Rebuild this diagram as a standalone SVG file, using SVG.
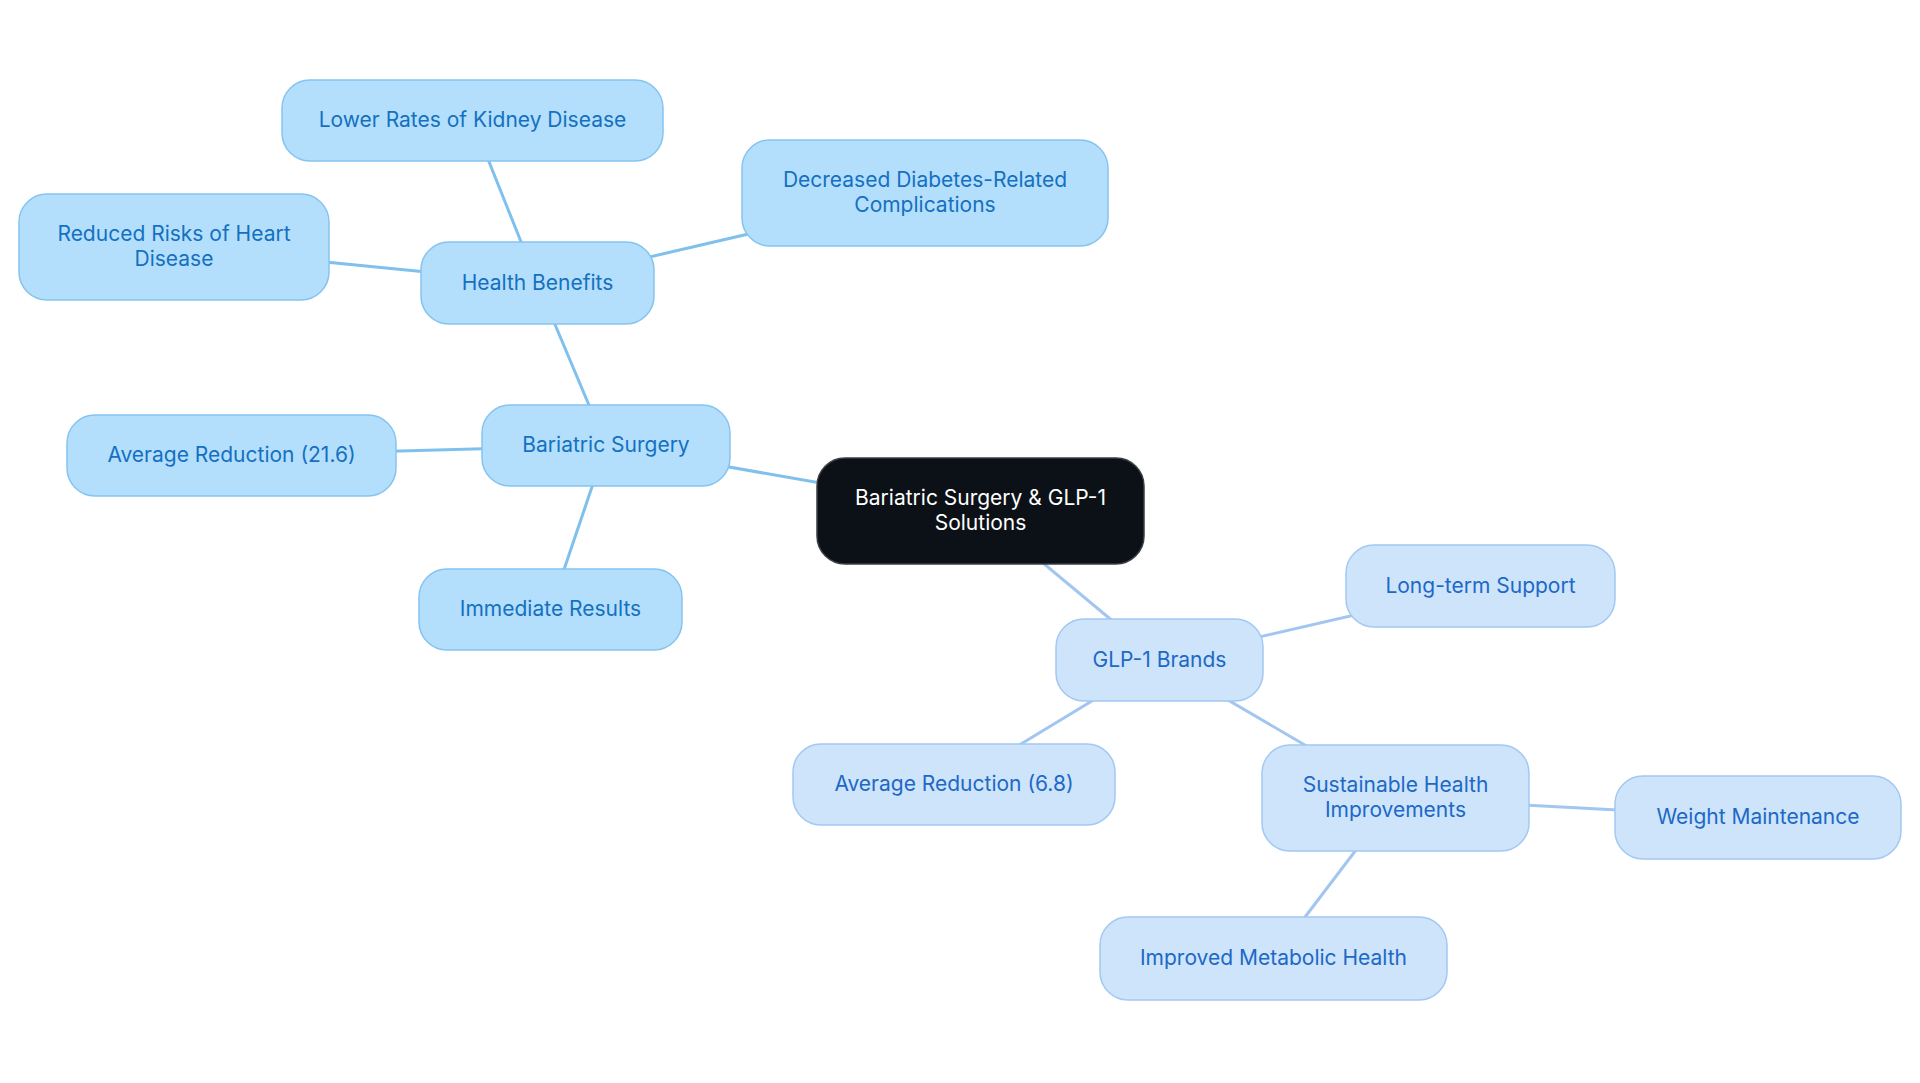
<svg xmlns="http://www.w3.org/2000/svg" width="1920" height="1083" viewBox="0 0 1920 1083">
<style>
  .edge-a { stroke: #80c0ec; stroke-width: 3; fill: none; }
  .edge-b { stroke: #a2c6ef; stroke-width: 3; fill: none; }
  .box-a { fill: #b3dffc; stroke: #86c4ef; stroke-width: 1.5; }
  .box-b { fill: #cde4fb; stroke: #a3c8f2; stroke-width: 1.5; }
  .box-root { fill: #0c1117; stroke: #3a3f46; stroke-width: 1.5; }
  text { font-family: Inter, "Noto Sans", "Liberation Sans", sans-serif; font-size: 21px; text-anchor: middle; dominant-baseline: central; }
  .t-a { fill: #1570c0; }
  .t-b { fill: #2068c6; }
  .t-root { fill: #ffffff; }
</style>
<rect width="1920" height="1083" fill="#ffffff"/>
<g id="connectors">
  <line class="edge-a" x1="980.5" y1="511" x2="606" y2="445.5"/>
  <line class="edge-a" x1="606" y1="445.5" x2="537.5" y2="283"/>
  <line class="edge-a" x1="606" y1="445.5" x2="231.5" y2="455.5"/>
  <line class="edge-a" x1="606" y1="445.5" x2="550.5" y2="609.5"/>
  <line class="edge-a" x1="537.5" y1="283" x2="472.5" y2="120.5"/>
  <line class="edge-a" x1="537.5" y1="283" x2="925" y2="193"/>
  <line class="edge-a" x1="537.5" y1="283" x2="174" y2="247"/>
  <line class="edge-b" x1="980.5" y1="511" x2="1159.5" y2="660"/>
  <line class="edge-b" x1="1159.5" y1="660" x2="1480.5" y2="586"/>
  <line class="edge-b" x1="1159.5" y1="660" x2="954" y2="784.5"/>
  <line class="edge-b" x1="1159.5" y1="660" x2="1395.5" y2="798"/>
  <line class="edge-b" x1="1395.5" y1="798" x2="1758" y2="817.5"/>
  <line class="edge-b" x1="1395.5" y1="798" x2="1273.5" y2="958.5"/>
</g>
<g id="node-root">
  <rect class="box-root" x="817" y="458" width="327" height="106" rx="28"/>
  <text class="t-root" x="980.5" y="497.5">Bariatric Surgery &amp; GLP-1</text>
  <text class="t-root" x="980.5" y="522">Solutions</text>
</g>
<g id="node-bariatric">
  <rect class="box-a" x="482" y="405" width="248" height="81" rx="28"/>
  <text class="t-a" x="606" y="444.5">Bariatric Surgery</text>
</g>
<g id="node-health">
  <rect class="box-a" x="421" y="242" width="233" height="82" rx="28"/>
  <text class="t-a" x="537.5" y="282">Health Benefits</text>
</g>
<g id="node-kidney">
  <rect class="box-a" x="282" y="80" width="381" height="81" rx="28"/>
  <text class="t-a" x="472.5" y="119.5">Lower Rates of Kidney Disease</text>
</g>
<g id="node-diabetes">
  <rect class="box-a" x="742" y="140" width="366" height="106" rx="28"/>
  <text class="t-a" x="925" y="179.5">Decreased Diabetes-Related</text>
  <text class="t-a" x="925" y="204">Complications</text>
</g>
<g id="node-heart">
  <rect class="box-a" x="19" y="194" width="310" height="106" rx="28"/>
  <text class="t-a" x="174" y="233.5">Reduced Risks of Heart</text>
  <text class="t-a" x="174" y="258">Disease</text>
</g>
<g id="node-avg216">
  <rect class="box-a" x="67" y="415" width="329" height="81" rx="28"/>
  <text class="t-a" x="231.5" y="454.5">Average Reduction (21.6)</text>
</g>
<g id="node-immediate">
  <rect class="box-a" x="419" y="569" width="263" height="81" rx="28"/>
  <text class="t-a" x="550.5" y="608.5">Immediate Results</text>
</g>
<g id="node-glp">
  <rect class="box-b" x="1056" y="619" width="207" height="82" rx="28"/>
  <text class="t-b" x="1159.5" y="659">GLP-1 Brands</text>
</g>
<g id="node-longterm">
  <rect class="box-b" x="1346" y="545" width="269" height="82" rx="28"/>
  <text class="t-b" x="1480.5" y="585">Long-term Support</text>
</g>
<g id="node-avg68">
  <rect class="box-b" x="793" y="744" width="322" height="81" rx="28"/>
  <text class="t-b" x="954" y="783.5">Average Reduction (6.8)</text>
</g>
<g id="node-sustainable">
  <rect class="box-b" x="1262" y="745" width="267" height="106" rx="28"/>
  <text class="t-b" x="1395.5" y="784.5">Sustainable Health</text>
  <text class="t-b" x="1395.5" y="809">Improvements</text>
</g>
<g id="node-weight">
  <rect class="box-b" x="1615" y="776" width="286" height="83" rx="28"/>
  <text class="t-b" x="1758" y="816.5">Weight Maintenance</text>
</g>
<g id="node-metabolic">
  <rect class="box-b" x="1100" y="917" width="347" height="83" rx="28"/>
  <text class="t-b" x="1273.5" y="957.5">Improved Metabolic Health</text>
</g>
</svg>
